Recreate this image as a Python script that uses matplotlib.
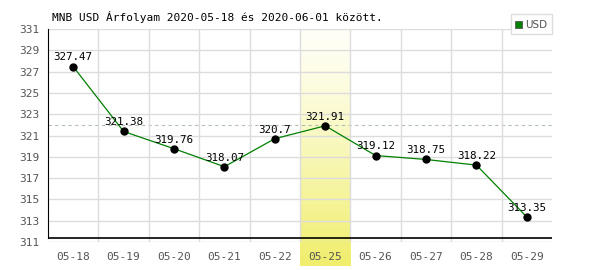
import numpy as np
import matplotlib
matplotlib.use("Agg")
import matplotlib.pyplot as plt

# MNB USD rates
dates = ["05-18", "05-19", "05-20", "05-21", "05-22", "05-25", "05-26", "05-27", "05-28", "05-29"]
rates = [327.47, 321.38, 319.76, 318.07, 320.7, 321.91, 319.12, 318.75, 318.22, 313.35]
labels = ["327.47", "321.38", "319.76", "318.07", "320.7", "321.91", "319.12", "318.75", "318.22", "313.35"]
highlight = 5
ref_level = 322.0
yticks = list(range(311, 332, 2))

plt.rcParams['font.family'] = ['DejaVu Sans Mono']

fig = plt.figure(figsize=(6, 2.7), dpi=100)
ax = fig.add_axes([48 / 600, 28 / 270, 504 / 600, 213 / 270])
x = np.arange(len(dates))
ax.set_xlim(-0.5, len(dates) - 0.5)
ax.set_ylim(311, 331)

# highlighted day, gradient band running below the axis
grad = np.linspace(0, 1, 100).reshape(-1, 1) ** 1.2
cmap = matplotlib.colors.LinearSegmentedColormap.from_list("band", ["#fffff8", "#f0ee6c"])
ax.imshow(grad, cmap=cmap, aspect="auto", extent=(highlight - 0.5, highlight + 0.5, 308.75, 331),
          origin="upper", clip_on=False, zorder=0.5)

ax.set_yticks(yticks)
ax.set_xticks(x)
ax.set_xticks(x[:-1] + 0.5, minor=True)
ax.set_xticklabels(dates)
ax.grid(True, axis="y", color="#dcdcdc", linewidth=1, zorder=0)
ax.grid(True, axis="x", which="minor", color="#dcdcdc", linewidth=1, zorder=0)
ax.tick_params(axis="both", which="both", length=0, labelsize=8, labelcolor="#555555")
ax.tick_params(axis="x", pad=7)
ax.tick_params(axis="y", pad=6)
for s in ["top", "right", "bottom"]:
    ax.spines[s].set_visible(False)
ax.spines["left"].set_color("black")
ax.spines["left"].set_bounds(311.4, 331)
ax.axhline(311.4, color="black", linewidth=1.2, zorder=3)

ax.axhline(ref_level, color="#b0c0b0", linestyle=(0, (3, 3)), linewidth=0.8, zorder=1)

ax.plot(x, rates, color="#008000", linewidth=0.9, zorder=4)
ax.plot(x, rates, "o", color="black", markersize=5, zorder=5)
for xi, yi, t in zip(x, rates, labels):
    ax.annotate(t, (xi, yi), xytext=(0, 3), textcoords="offset points", ha="center", va="bottom",
                fontsize=7.8, color="black", zorder=6)

fig.text(52 / 600, 1 - 17 / 270, "MNB USD Árfolyam 2020-05-18 és 2020-06-01 között.",
         fontsize=8, color="black", va="center", ha="left")

# legend box
lx0, ly0, lx1, ly1 = 511, 14, 552, 34
fig.patches.append(matplotlib.patches.Rectangle((lx0 / 600, 1 - ly1 / 270), (lx1 - lx0) / 600, (ly1 - ly0) / 270,
                                                transform=fig.transFigure, facecolor="white",
                                                edgecolor="#dcdcdc", linewidth=1))
fig.patches.append(matplotlib.patches.Rectangle((515 / 600, 1 - 28 / 270), 7 / 600, 7 / 270,
                                                transform=fig.transFigure, facecolor="#008000",
                                                edgecolor="#555555", linewidth=0.6))
fig.text(525 / 600, 1 - 24.5 / 270, "USD", fontsize=7.5, color="#555555", va="center", ha="left",
         family="DejaVu Sans")

fig.savefig("out.png", dpi=100)
